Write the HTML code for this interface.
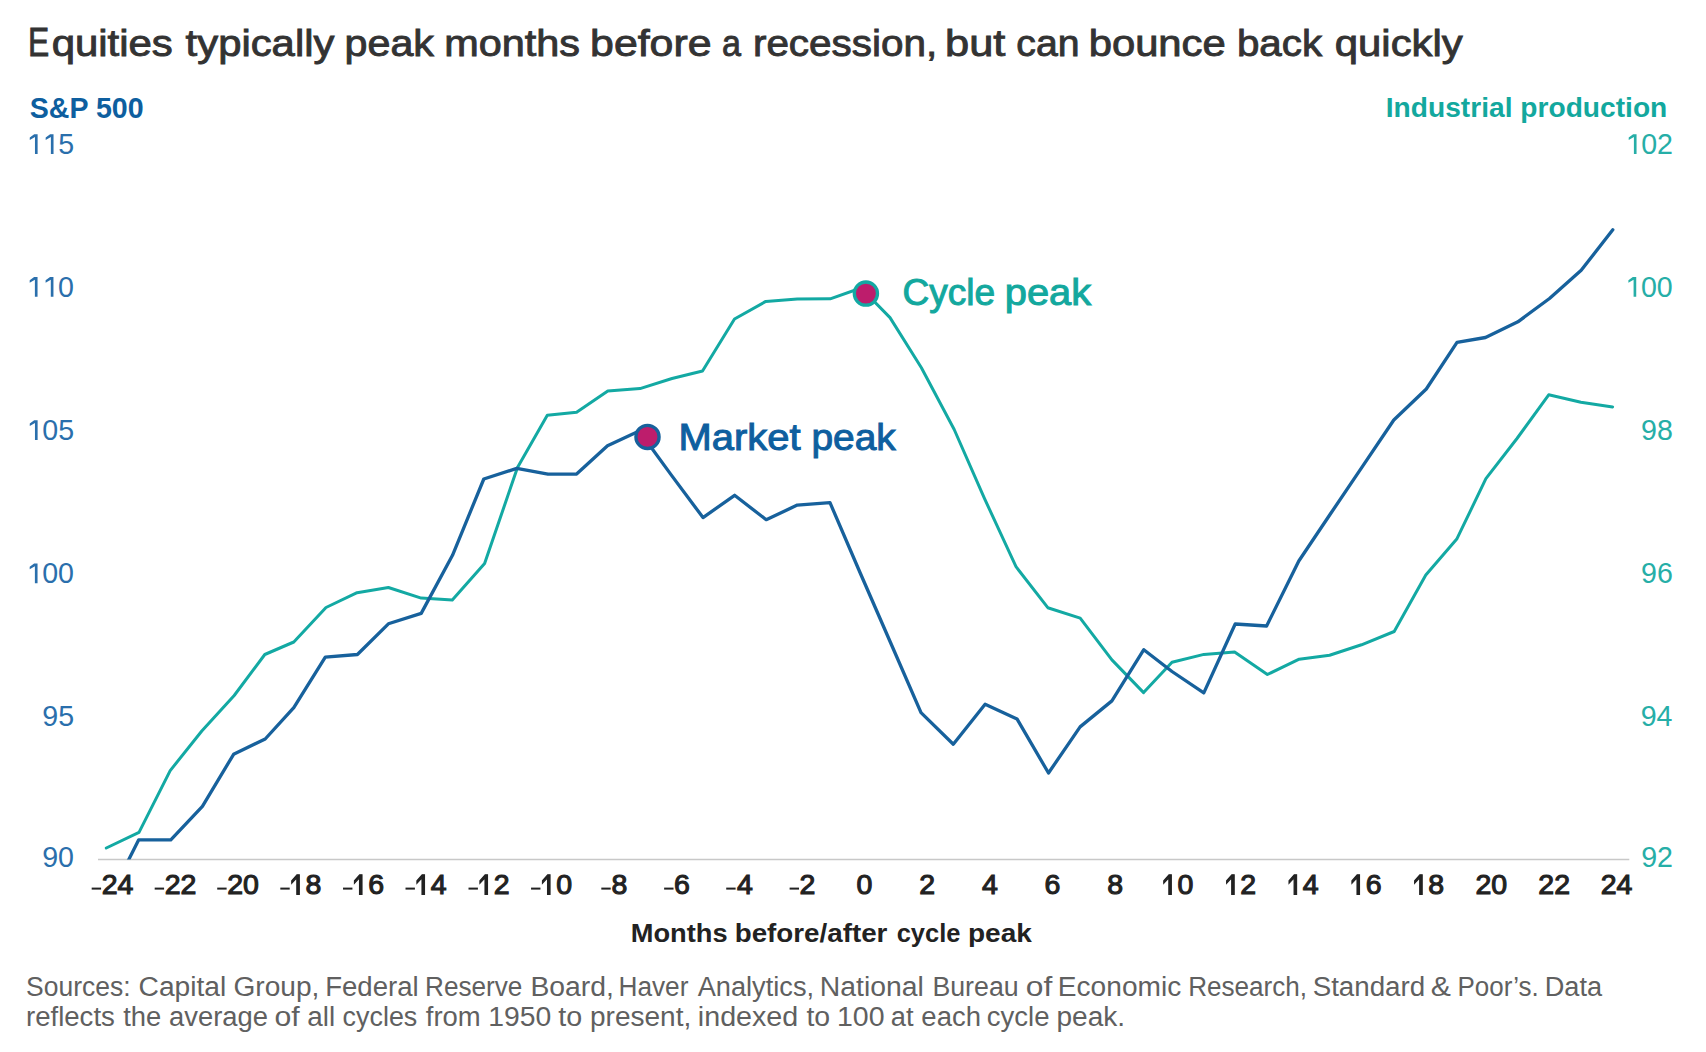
<!DOCTYPE html>
<html><head><meta charset="utf-8">
<style>
html,body{margin:0;padding:0;background:#fff;width:1706px;height:1052px;overflow:hidden}
svg{display:block}
text{font-family:"Liberation Sans",sans-serif}
.title{font-size:37.5px;fill:#333333;stroke:#333333;stroke-width:0.9px}
.ax{font-size:28.8px;font-weight:bold}
.xt{font-size:25px;font-weight:bold;fill:#222222}
.src{font-size:27px;fill:#606060}
.ann{font-size:37px;stroke-width:1.0px}
</style></head><body>
<svg width="1706" height="1052" viewBox="0 0 1706 1052">
<defs><clipPath id="plot"><rect x="90" y="100" width="1560" height="759.5"/></clipPath></defs>
<text x="51.68" y="55.80" class="title" textLength="121.17" lengthAdjust="spacingAndGlyphs">quities</text><text x="185.60" y="55.80" class="title" textLength="148.80" lengthAdjust="spacingAndGlyphs">typically</text><text x="344.60" y="55.80" class="title" textLength="89.36" lengthAdjust="spacingAndGlyphs">peak</text><text x="444.19" y="55.80" class="title" textLength="135.89" lengthAdjust="spacingAndGlyphs">months</text><text x="590.12" y="55.80" class="title" textLength="121.38" lengthAdjust="spacingAndGlyphs">before</text><text x="721.89" y="55.80" class="title" textLength="18.97" lengthAdjust="spacingAndGlyphs">a</text><text x="752.94" y="55.80" class="title" textLength="184.20" lengthAdjust="spacingAndGlyphs">recession,</text><text x="945.09" y="55.80" class="title" textLength="60.32" lengthAdjust="spacingAndGlyphs">but</text><text x="1016.36" y="55.80" class="title" textLength="63.18" lengthAdjust="spacingAndGlyphs">can</text><text x="1088.67" y="55.80" class="title" textLength="137.08" lengthAdjust="spacingAndGlyphs">bounce</text><text x="1236.95" y="55.80" class="title" textLength="85.21" lengthAdjust="spacingAndGlyphs">back</text><text x="1334.78" y="55.80" class="title" textLength="128.00" lengthAdjust="spacingAndGlyphs">quickly</text><text x="28.00" y="55.80" class="title" style="font-size:41.5px" textLength="21.23" lengthAdjust="spacingAndGlyphs">E</text>
<text x="29.7" y="117.5" class="ax" fill="#0e5f9f" textLength="114" lengthAdjust="spacingAndGlyphs">S&amp;P 500</text>
<text x="1385.8" y="117.3" class="ax" style="font-size:28px" fill="#13a89e" textLength="281.5" lengthAdjust="spacingAndGlyphs">Industrial production</text>
<text x="26.38" y="153.94" font-size="28.60" fill="#2a6fac">  5</text><path d="M615,0L615,1220L243,997L243,1177L560,1409L805,1409L805,0Z" transform="translate(26.38,153.94) scale(0.01396,-0.01396)" fill="#2a6fac"/><path d="M615,0L615,1220L243,997L243,1177L560,1409L805,1409L805,0Z" transform="translate(42.29,153.94) scale(0.01396,-0.01396)" fill="#2a6fac"/>
<text x="26.30" y="296.74" font-size="28.60" fill="#2a6fac">  0</text><path d="M615,0L615,1220L243,997L243,1177L560,1409L805,1409L805,0Z" transform="translate(26.30,296.74) scale(0.01396,-0.01396)" fill="#2a6fac"/><path d="M615,0L615,1220L243,997L243,1177L560,1409L805,1409L805,0Z" transform="translate(42.21,296.74) scale(0.01396,-0.01396)" fill="#2a6fac"/>
<text x="26.38" y="439.94" font-size="28.60" fill="#2a6fac"> 05</text><path d="M615,0L615,1220L243,997L243,1177L560,1409L805,1409L805,0Z" transform="translate(26.38,439.94) scale(0.01396,-0.01396)" fill="#2a6fac"/>
<text x="26.30" y="583.24" font-size="28.60" fill="#2a6fac"> 00</text><path d="M615,0L615,1220L243,997L243,1177L560,1409L805,1409L805,0Z" transform="translate(26.30,583.24) scale(0.01396,-0.01396)" fill="#2a6fac"/>
<text x="42.29" y="725.84" font-size="28.60" fill="#2a6fac">95</text>
<text x="42.21" y="867.44" font-size="28.60" fill="#2a6fac">90</text>
<text x="1625.32" y="153.94" font-size="28.60" fill="#26aea7"> 02</text><path d="M615,0L615,1220L243,997L243,1177L560,1409L805,1409L805,0Z" transform="translate(1625.32,153.94) scale(0.01396,-0.01396)" fill="#26aea7"/>
<text x="1625.00" y="296.74" font-size="28.60" fill="#26aea7"> 00</text><path d="M615,0L615,1220L243,997L243,1177L560,1409L805,1409L805,0Z" transform="translate(1625.00,296.74) scale(0.01396,-0.01396)" fill="#26aea7"/>
<text x="1641.03" y="439.94" font-size="28.60" fill="#26aea7">98</text>
<text x="1641.04" y="583.24" font-size="28.60" fill="#26aea7">96</text>
<text x="1640.63" y="725.84" font-size="28.60" fill="#26aea7">94</text>
<text x="1641.23" y="867.44" font-size="28.60" fill="#26aea7">92</text>

<line x1="98" y1="859.5" x2="1629.3" y2="859.5" stroke="#c8c8c8" stroke-width="1.6"/>
<rect x="91.68" y="887.6" width="9.4" height="2.0" fill="#222222"/><text x="101.65" y="894.40" font-size="28.50" fill="#222222" stroke="#222222" stroke-width="1.10">24</text>
<rect x="154.68" y="887.6" width="9.4" height="2.0" fill="#222222"/><text x="164.65" y="894.40" font-size="28.50" fill="#222222" stroke="#222222" stroke-width="1.10">22</text>
<rect x="217.22" y="887.6" width="9.4" height="2.0" fill="#222222"/><text x="227.19" y="894.40" font-size="28.50" fill="#222222" stroke="#222222" stroke-width="1.10">20</text>
<rect x="280.31" y="887.6" width="9.4" height="2.0" fill="#222222"/><text x="289.63" y="894.40" font-size="28.50" fill="#222222" stroke="#222222" stroke-width="1.10"> 8</text><path d="M515,0L515,1190L150,800L150,975L525,1409L696,1409L696,0Z" transform="translate(289.63,894.40) scale(0.01392,-0.01392)" fill="#222222" stroke="#222222" stroke-width="1.10" vector-effect="non-scaling-stroke"/>
<rect x="343.02" y="887.6" width="9.4" height="2.0" fill="#222222"/><text x="352.33" y="894.40" font-size="28.50" fill="#222222" stroke="#222222" stroke-width="1.10"> 6</text><path d="M515,0L515,1190L150,800L150,975L525,1409L696,1409L696,0Z" transform="translate(352.33,894.40) scale(0.01392,-0.01392)" fill="#222222" stroke="#222222" stroke-width="1.10" vector-effect="non-scaling-stroke"/>
<rect x="405.51" y="887.6" width="9.4" height="2.0" fill="#222222"/><text x="414.82" y="894.40" font-size="28.50" fill="#222222" stroke="#222222" stroke-width="1.10"> 4</text><path d="M515,0L515,1190L150,800L150,975L525,1409L696,1409L696,0Z" transform="translate(414.82,894.40) scale(0.01392,-0.01392)" fill="#222222" stroke="#222222" stroke-width="1.10" vector-effect="non-scaling-stroke"/>
<rect x="468.51" y="887.6" width="9.4" height="2.0" fill="#222222"/><text x="477.82" y="894.40" font-size="28.50" fill="#222222" stroke="#222222" stroke-width="1.10"> 2</text><path d="M515,0L515,1190L150,800L150,975L525,1409L696,1409L696,0Z" transform="translate(477.82,894.40) scale(0.01392,-0.01392)" fill="#222222" stroke="#222222" stroke-width="1.10" vector-effect="non-scaling-stroke"/>
<rect x="531.05" y="887.6" width="9.4" height="2.0" fill="#222222"/><text x="540.36" y="894.40" font-size="28.50" fill="#222222" stroke="#222222" stroke-width="1.10"> 0</text><path d="M515,0L515,1190L150,800L150,975L525,1409L696,1409L696,0Z" transform="translate(540.36,894.40) scale(0.01392,-0.01392)" fill="#222222" stroke="#222222" stroke-width="1.10" vector-effect="non-scaling-stroke"/>
<rect x="601.31" y="887.6" width="9.4" height="2.0" fill="#222222"/><text x="611.47" y="894.40" font-size="28.50" fill="#222222" stroke="#222222" stroke-width="1.10">8</text>
<rect x="664.12" y="887.6" width="9.4" height="2.0" fill="#222222"/><text x="674.08" y="894.40" font-size="28.50" fill="#222222" stroke="#222222" stroke-width="1.10">6</text>
<rect x="726.22" y="887.6" width="9.4" height="2.0" fill="#222222"/><text x="736.97" y="894.40" font-size="28.50" fill="#222222" stroke="#222222" stroke-width="1.10">4</text>
<rect x="789.61" y="887.6" width="9.4" height="2.0" fill="#222222"/><text x="799.57" y="894.40" font-size="28.50" fill="#222222" stroke="#222222" stroke-width="1.10">2</text>
<text x="856.57" y="894.40" font-size="28.50" fill="#222222" stroke="#222222" stroke-width="1.10">0</text>
<text x="919.27" y="894.40" font-size="28.50" fill="#222222" stroke="#222222" stroke-width="1.10">2</text>
<text x="982.07" y="894.40" font-size="28.50" fill="#222222" stroke="#222222" stroke-width="1.10">4</text>
<text x="1044.58" y="894.40" font-size="28.50" fill="#222222" stroke="#222222" stroke-width="1.10">6</text>
<text x="1107.37" y="894.40" font-size="28.50" fill="#222222" stroke="#222222" stroke-width="1.10">8</text>
<text x="1161.66" y="894.40" font-size="28.50" fill="#222222" stroke="#222222" stroke-width="1.10"> 0</text><path d="M515,0L515,1190L150,800L150,975L525,1409L696,1409L696,0Z" transform="translate(1161.66,894.40) scale(0.01392,-0.01392)" fill="#222222" stroke="#222222" stroke-width="1.10" vector-effect="non-scaling-stroke"/>
<text x="1224.52" y="894.40" font-size="28.50" fill="#222222" stroke="#222222" stroke-width="1.10"> 2</text><path d="M515,0L515,1190L150,800L150,975L525,1409L696,1409L696,0Z" transform="translate(1224.52,894.40) scale(0.01392,-0.01392)" fill="#222222" stroke="#222222" stroke-width="1.10" vector-effect="non-scaling-stroke"/>
<text x="1286.92" y="894.40" font-size="28.50" fill="#222222" stroke="#222222" stroke-width="1.10"> 4</text><path d="M515,0L515,1190L150,800L150,975L525,1409L696,1409L696,0Z" transform="translate(1286.92,894.40) scale(0.01392,-0.01392)" fill="#222222" stroke="#222222" stroke-width="1.10" vector-effect="non-scaling-stroke"/>
<text x="1349.83" y="894.40" font-size="28.50" fill="#222222" stroke="#222222" stroke-width="1.10"> 6</text><path d="M515,0L515,1190L150,800L150,975L525,1409L696,1409L696,0Z" transform="translate(1349.83,894.40) scale(0.01392,-0.01392)" fill="#222222" stroke="#222222" stroke-width="1.10" vector-effect="non-scaling-stroke"/>
<text x="1412.53" y="894.40" font-size="28.50" fill="#222222" stroke="#222222" stroke-width="1.10"> 8</text><path d="M515,0L515,1190L150,800L150,975L525,1409L696,1409L696,0Z" transform="translate(1412.53,894.40) scale(0.01392,-0.01392)" fill="#222222" stroke="#222222" stroke-width="1.10" vector-effect="non-scaling-stroke"/>
<text x="1475.49" y="894.40" font-size="28.50" fill="#222222" stroke="#222222" stroke-width="1.10">20</text>
<text x="1538.35" y="894.40" font-size="28.50" fill="#222222" stroke="#222222" stroke-width="1.10">22</text>
<text x="1600.75" y="894.40" font-size="28.50" fill="#222222" stroke="#222222" stroke-width="1.10">24</text>

<text x="630.71" y="941.80" class="xt" textLength="96.84" lengthAdjust="spacingAndGlyphs">Months</text><text x="734.69" y="941.80" class="xt" textLength="152.71" lengthAdjust="spacingAndGlyphs">before/after</text><text x="896.68" y="941.80" class="xt" textLength="63.79" lengthAdjust="spacingAndGlyphs">cycle</text><text x="967.98" y="941.80" class="xt" textLength="63.90" lengthAdjust="spacingAndGlyphs">peak</text>
<text x="26.02" y="996.20" class="src" textLength="104.51" lengthAdjust="spacingAndGlyphs">Sources:</text><text x="138.56" y="996.20" class="src" textLength="87.74" lengthAdjust="spacingAndGlyphs">Capital</text><text x="233.46" y="996.20" class="src" textLength="85.95" lengthAdjust="spacingAndGlyphs">Group,</text><text x="325.16" y="996.20" class="src" textLength="93.42" lengthAdjust="spacingAndGlyphs">Federal</text><text x="425.06" y="996.20" class="src" textLength="97.37" lengthAdjust="spacingAndGlyphs">Reserve</text><text x="530.40" y="996.20" class="src" textLength="83.44" lengthAdjust="spacingAndGlyphs">Board,</text><text x="618.46" y="996.20" class="src" textLength="69.97" lengthAdjust="spacingAndGlyphs">Haver</text><text x="697.70" y="996.20" class="src" textLength="116.36" lengthAdjust="spacingAndGlyphs">Analytics,</text><text x="819.80" y="996.20" class="src" textLength="104.02" lengthAdjust="spacingAndGlyphs">National</text><text x="932.42" y="996.20" class="src" textLength="86.25" lengthAdjust="spacingAndGlyphs">Bureau</text><text x="1025.82" y="996.20" class="src" textLength="26.53" lengthAdjust="spacingAndGlyphs">of</text><text x="1057.82" y="996.20" class="src" textLength="123.45" lengthAdjust="spacingAndGlyphs">Economic</text><text x="1188.17" y="996.20" class="src" textLength="118.82" lengthAdjust="spacingAndGlyphs">Research,</text><text x="1312.67" y="996.20" class="src" textLength="112.56" lengthAdjust="spacingAndGlyphs">Standard</text><text x="1430.88" y="996.20" class="src" textLength="20.14" lengthAdjust="spacingAndGlyphs">&amp;</text><text x="1457.48" y="996.20" class="src" textLength="81.31" lengthAdjust="spacingAndGlyphs">Poor’s.</text><text x="1544.69" y="996.20" class="src" textLength="57.36" lengthAdjust="spacingAndGlyphs">Data</text>
<text x="25.98" y="1026.40" class="src" textLength="88.87" lengthAdjust="spacingAndGlyphs">reflects</text><text x="123.20" y="1026.40" class="src" textLength="38.05" lengthAdjust="spacingAndGlyphs">the</text><text x="169.09" y="1026.40" class="src" textLength="98.90" lengthAdjust="spacingAndGlyphs">average</text><text x="274.48" y="1026.40" class="src" textLength="25.19" lengthAdjust="spacingAndGlyphs">of</text><text x="307.37" y="1026.40" class="src" textLength="27.88" lengthAdjust="spacingAndGlyphs">all</text><text x="342.60" y="1026.40" class="src" textLength="74.71" lengthAdjust="spacingAndGlyphs">cycles</text><text x="425.80" y="1026.40" class="src" textLength="54.92" lengthAdjust="spacingAndGlyphs">from</text><text x="488.20" y="1026.40" class="src" textLength="63.03" lengthAdjust="spacingAndGlyphs">1950</text><text x="558.30" y="1026.40" class="src" textLength="23.97" lengthAdjust="spacingAndGlyphs">to</text><text x="590.06" y="1026.40" class="src" textLength="101.16" lengthAdjust="spacingAndGlyphs">present,</text><text x="697.84" y="1026.40" class="src" textLength="100.45" lengthAdjust="spacingAndGlyphs">indexed</text><text x="806.40" y="1026.40" class="src" textLength="23.76" lengthAdjust="spacingAndGlyphs">to</text><text x="836.99" y="1026.40" class="src" textLength="47.53" lengthAdjust="spacingAndGlyphs">100</text><text x="890.79" y="1026.40" class="src" textLength="22.74" lengthAdjust="spacingAndGlyphs">at</text><text x="921.38" y="1026.40" class="src" textLength="59.61" lengthAdjust="spacingAndGlyphs">each</text><text x="986.78" y="1026.40" class="src" textLength="62.75" lengthAdjust="spacingAndGlyphs">cycle</text><text x="1056.46" y="1026.40" class="src" textLength="68.58" lengthAdjust="spacingAndGlyphs">peak.</text>
<g clip-path="url(#plot)" fill="none" stroke-linejoin="round" stroke-linecap="round" stroke-width="3.4">
<polyline points="106.3,848.0 139.0,832.4 170.2,770.6 201.8,731.0 234.2,695.5 264.8,654.5 293.8,642.0 326.0,607.5 357.1,592.7 388.4,587.5 421.2,598.1 452.3,600.0 484.6,563.5 517.5,467.5 547.3,415.2 576.6,412.2 607.8,391.0 640.0,388.6 672.0,378.5 702.5,371.0 734.5,319.0 765.8,301.4 797.3,299.0 830.2,298.8 861.0,288.0 890.0,317.6 921.4,367.8 954.2,429.5 984.2,497.9 1016.0,566.7 1047.8,607.7 1080.2,618.1 1111.9,659.9 1143.6,692.6 1172.0,662.2 1203.9,654.4 1234.6,652.0 1267.4,674.5 1299.2,659.2 1329.6,655.2 1361.5,644.8 1394.2,631.5 1425.8,575.0 1457.0,538.7 1485.9,478.7 1517.0,438.5 1548.7,394.8 1580.9,402.3 1612.6,406.9" stroke="#13a9a3" stroke-width="3.0"/>
<polyline points="106.3,904.5 138.6,839.9 170.8,839.9 202.4,806.3 233.6,754.3 265.2,739.0 293.8,707.7 325.3,657.1 357.4,654.5 388.4,623.8 421.2,613.4 452.5,555.3 483.8,479.0 516.8,468.4 548.0,474.2 576.6,474.0 607.5,445.7 639.2,431.0 671.0,474.6 703.0,517.6 734.6,495.3 766.2,519.7 797.3,505.1 830.0,502.7 860.0,572.5 890.5,642.5 921.0,712.6 953.3,744.2 985.1,704.2 1017.0,718.9 1048.5,773.0 1080.1,726.9 1111.9,700.9 1143.8,649.7 1172.0,671.5 1203.8,692.9 1235.2,624.0 1266.6,626.0 1298.8,561.0 1330.0,514.5 1362.0,467.2 1393.8,420.0 1426.3,389.0 1457.0,342.3 1485.5,337.5 1517.9,321.8 1549.5,298.5 1581.2,270.3 1612.8,229.8" stroke="#17619c" stroke-width="3.3"/>
</g>
<circle cx="865.9" cy="293.6" r="11.6" fill="#bd1d6c" stroke="#13a9a3" stroke-width="3.3"/>
<circle cx="647.5" cy="436.9" r="11.6" fill="#bd1d6c" stroke="#17619c" stroke-width="3.3"/>
<text x="902.50" y="305.40" class="ann" fill="#13a89e" stroke="#13a89e" textLength="92.63" lengthAdjust="spacingAndGlyphs">Cycle</text><text x="1004.75" y="305.40" class="ann" fill="#13a89e" stroke="#13a89e" textLength="86.33" lengthAdjust="spacingAndGlyphs">peak</text>
<text x="678.44" y="450.40" class="ann" fill="#0e5f9f" stroke="#0e5f9f" textLength="122.06" lengthAdjust="spacingAndGlyphs">Market</text><text x="811.40" y="450.40" class="ann" fill="#0e5f9f" stroke="#0e5f9f" textLength="84.30" lengthAdjust="spacingAndGlyphs">peak</text>
</svg>
</body></html>
